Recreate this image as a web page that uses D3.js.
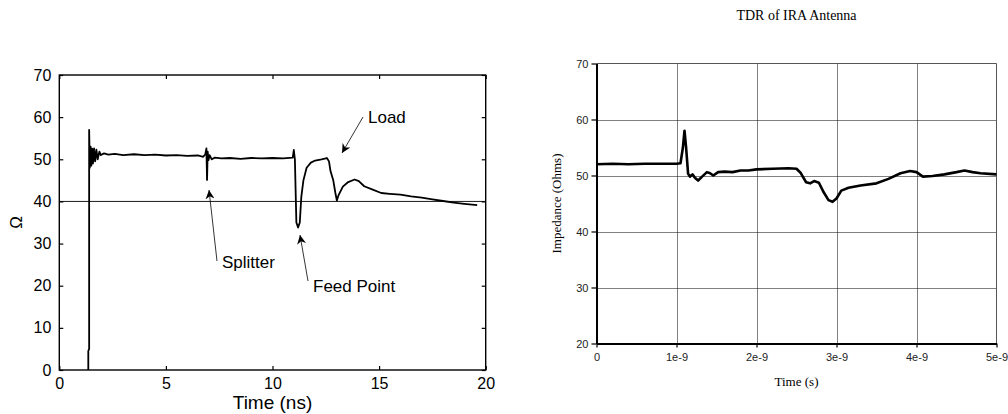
<!DOCTYPE html>
<html>
<head>
<meta charset="utf-8">
<script src="https://cdn.jsdelivr.net/npm/d3@7"></script>
<style>
  body { margin: 0; background: #fff; }
  svg { display: block; }
</style>
</head>
<body>
<script>
// left plot: TDR trace, time in ns, impedance in ohms
const leftTime = [1.36, 1.36, 1.40, 1.40, 1.43, 1.47, 1.50, 1.54, 1.58, 1.63, 1.68, 1.74, 1.80, 1.88, 1.95, 2.1, 2.3, 2.6, 3.0, 3.5, 4.0, 4.5, 5.0, 5.5, 6.0, 6.5, 6.75, 6.85, 6.90, 6.93, 6.96, 7.0, 7.05, 7.15, 7.3, 7.6, 8.0, 8.5, 9.0, 9.5, 10.0, 10.5, 10.95, 11.0, 11.05, 11.12, 11.2, 11.28, 11.35, 11.45, 11.6, 11.8, 12.0, 12.3, 12.55, 12.65, 12.72, 12.85, 12.95, 13.02, 13.1, 13.3, 13.55, 13.85, 14.05, 14.3, 14.7, 15.1, 15.5, 16.0, 16.5, 17.0, 17.5, 18.0, 18.5, 19.0, 19.6];
const leftOhm = [0, 4.5, 5, 57, 48, 53, 48.5, 52.5, 49, 52.6, 49.5, 52.3, 50, 51.8, 51.0, 51.4, 51.1, 51.3, 51.0, 51.2, 51.0, 51.1, 50.9, 51.0, 50.8, 50.9, 50.6, 51.2, 52.6, 45.1, 51.8, 49.8, 51.0, 50.0, 50.4, 50.2, 50.3, 50.1, 50.3, 50.2, 50.3, 50.2, 50.4, 52.2, 50.0, 35.0, 33.8, 35.0, 41.0, 45.0, 48.0, 49.2, 49.7, 50.0, 50.3, 49.5, 47.2, 45.0, 42.0, 40.2, 41.5, 43.5, 44.6, 45.2, 44.8, 43.6, 42.8, 42.0, 41.8, 41.6, 41.2, 40.9, 40.5, 40.1, 39.7, 39.4, 39.1];
const leftXTicks = [0, 5, 10, 15, 20];
const leftYTicks = [0, 10, 20, 30, 40, 50, 60, 70];
const leftRefLine = 40;
const notes = [
  {text: "Load", tx: 368, ty: 117, from: [363, 117], to: [342, 153]},
  {text: "Splitter", tx: 222, ty: 262, from: [217, 261], to: [209, 190]},
  {text: "Feed Point", tx: 313, ty: 286, from: [308, 281], to: [300, 235]}
];

// right plot: TDR of IRA Antenna, time in units of 1e-9 s
const rightTime = [0, 0.2, 0.4, 0.6, 0.8, 1.0, 1.05, 1.08, 1.10, 1.12, 1.145, 1.17, 1.2, 1.23, 1.27, 1.32, 1.38, 1.42, 1.46, 1.52, 1.6, 1.7, 1.8, 1.9, 2.0, 2.2, 2.4, 2.5, 2.55, 2.62, 2.67, 2.72, 2.78, 2.84, 2.9, 2.95, 3.0, 3.06, 3.15, 3.3, 3.5, 3.65, 3.8, 3.92, 4.0, 4.08, 4.2, 4.35, 4.5, 4.6, 4.7, 4.8, 5.0];
const rightOhm = [52.0, 52.1, 52.0, 52.1, 52.1, 52.1, 52.2, 55, 58, 55, 50.3, 49.8, 50.2, 49.6, 49.1, 49.8, 50.6, 50.4, 50.0, 50.6, 50.7, 50.6, 50.9, 50.9, 51.1, 51.2, 51.3, 51.2, 50.5, 48.8, 48.6, 49.0, 48.7, 47.0, 45.6, 45.3, 45.9, 47.3, 47.8, 48.2, 48.6, 49.4, 50.4, 50.8, 50.6, 49.8, 49.9, 50.2, 50.6, 50.9, 50.6, 50.4, 50.2];
const rightXTicks = [0, 1, 2, 3, 4, 5];
const rightXLabels = ["0", "1e-9", "2e-9", "3e-9", "4e-9", "5e-9"];
const rightYTicks = [20, 30, 40, 50, 60, 70];

const svg = d3.select("body").append("svg")
    .attr("width", 1008)
    .attr("height", 414);

// ---------- left chart ----------
const xL = d3.scaleLinear().domain([0, 20]).range([59.3, 485.7]);
const yL = d3.scaleLinear().domain([0, 70]).range([370, 75]);
const gL = svg.append("g").style("font-family", "Liberation Sans, Arial, sans-serif");

// reference line at 40 ohm
gL.append("line")
    .attr("x1", xL(0)).attr("x2", xL(20))
    .attr("y1", yL(leftRefLine)).attr("y2", yL(leftRefLine))
    .attr("stroke", "#000").attr("stroke-width", 0.9);

// trace
gL.append("path")
    .datum(leftTime.map((t, i) => [t, leftOhm[i]]))
    .attr("fill", "none")
    .attr("stroke", "#000")
    .attr("stroke-width", 1.8)
    .attr("stroke-linejoin", "round")
    .attr("d", d3.line().x(d => xL(d[0])).y(d => yL(d[1])));

// inward ticks on all four sides (matlab style)
gL.append("g").attr("transform", `translate(0,${yL(0)})`)
    .call(d3.axisBottom(xL).tickValues(leftXTicks).tickSizeInner(-4).tickSizeOuter(0).tickPadding(8))
    .call(g => g.select(".domain").remove());
gL.append("g").attr("transform", `translate(0,${yL(70)})`)
    .call(d3.axisTop(xL).tickValues(leftXTicks).tickSizeInner(-4).tickSizeOuter(0).tickFormat(""))
    .call(g => g.select(".domain").remove());
gL.append("g").attr("transform", `translate(${xL(0)},0)`)
    .call(d3.axisLeft(yL).tickValues(leftYTicks).tickSizeInner(-4).tickSizeOuter(0).tickPadding(8))
    .call(g => g.select(".domain").remove());
gL.append("g").attr("transform", `translate(${xL(20)},0)`)
    .call(d3.axisRight(yL).tickValues(leftYTicks).tickSizeInner(-4).tickSizeOuter(0).tickFormat(""))
    .call(g => g.select(".domain").remove());
gL.selectAll(".tick line").attr("stroke", "#000").attr("stroke-width", 1.2);
gL.selectAll(".tick text").attr("fill", "#000").style("font-size", "16px")
    .style("font-family", "Liberation Sans, Arial, sans-serif");

gL.append("rect")
    .attr("x", xL(0)).attr("y", yL(70))
    .attr("width", xL(20) - xL(0)).attr("height", yL(0) - yL(70))
    .attr("fill", "none").attr("stroke", "#000").attr("stroke-width", 1.4);

gL.append("text")
    .attr("x", (xL(0) + xL(20)) / 2).attr("y", 409)
    .attr("text-anchor", "middle")
    .style("font-size", "19px")
    .text("Time (ns)");

gL.append("text")
    .attr("transform", `translate(22,${(yL(0) + yL(70)) / 2}) rotate(-90)`)
    .attr("text-anchor", "middle")
    .style("font-size", "17px")
    .text("Ω");

// annotations with arrows
svg.append("defs").append("marker")
    .attr("id", "arrow")
    .attr("viewBox", "0 0 10 10")
    .attr("refX", 10).attr("refY", 5)
    .attr("markerWidth", 9).attr("markerHeight", 9)
    .attr("markerUnits", "userSpaceOnUse")
    .attr("orient", "auto")
    .append("path").attr("d", "M0,0 L10,5 L0,10 L3,5 Z").attr("fill", "#000");

notes.forEach(n => {
  gL.append("line")
      .attr("x1", n.from[0]).attr("y1", n.from[1])
      .attr("x2", n.to[0]).attr("y2", n.to[1])
      .attr("stroke", "#000").attr("stroke-width", 0.8)
      .attr("marker-end", "url(#arrow)");
  gL.append("text")
      .attr("x", n.tx).attr("y", n.ty)
      .attr("dy", "0.35em")
      .style("font-size", "17px")
      .text(n.text);
});

// ---------- right chart ----------
const xR = d3.scaleLinear().domain([0, 5]).range([596.5, 996.5]);
const yR = d3.scaleLinear().domain([20, 70]).range([343.5, 63.5]);
const gR = svg.append("g");

// dotted grid
gR.append("g").selectAll("line.v")
    .data(rightXTicks.slice(1, -1))
    .enter().append("line")
    .attr("x1", d => Math.round(xR(d)) + 0.5).attr("x2", d => Math.round(xR(d)) + 0.5)
    .attr("y1", yR(20)).attr("y2", yR(70))
    .attr("stroke", "#000").attr("stroke-width", 1).attr("stroke-dasharray", "1,1");
gR.append("g").selectAll("line.h")
    .data(rightYTicks.slice(1, -1))
    .enter().append("line")
    .attr("x1", xR(0)).attr("x2", xR(5))
    .attr("y1", d => Math.round(yR(d)) + 0.5).attr("y2", d => Math.round(yR(d)) + 0.5)
    .attr("stroke", "#000").attr("stroke-width", 1).attr("stroke-dasharray", "1,1");

// top / right frame
gR.append("path")
    .attr("d", `M${xR(0)},${yR(70)}H${xR(5)}V${yR(20)}`)
    .attr("fill", "none").attr("stroke", "#555").attr("stroke-width", 1);

// trace
gR.append("path")
    .datum(rightTime.map((t, i) => [t, rightOhm[i]]))
    .attr("fill", "none")
    .attr("stroke", "#000")
    .attr("stroke-width", 2.6)
    .attr("stroke-linejoin", "round")
    .attr("d", d3.line().x(d => xR(d[0])).y(d => yR(d[1])));

const axB = gR.append("g").attr("transform", `translate(0,${yR(20)})`)
    .call(d3.axisBottom(xR).tickValues(rightXTicks).tickSizeInner(4).tickSizeOuter(0).tickPadding(6)
      .tickFormat((d, i) => rightXLabels[i]));
const axL = gR.append("g").attr("transform", `translate(${xR(0)},0)`)
    .call(d3.axisLeft(yR).tickValues(rightYTicks).tickSizeInner(5).tickSizeOuter(0).tickPadding(3));
[axB, axL].forEach(a => {
  a.select(".domain").attr("stroke", "#000").attr("stroke-width", 2);
  a.selectAll(".tick line").attr("stroke", "#000").attr("stroke-width", 1.2);
  a.selectAll(".tick text").attr("fill", "#222").style("font-size", "11px")
      .style("font-family", "Liberation Sans, Arial, sans-serif");
});

gR.append("text")
    .attr("x", 796.5).attr("y", 20)
    .attr("text-anchor", "middle")
    .style("font-family", "Liberation Serif, Times New Roman, serif")
    .style("font-size", "14px")
    .text("TDR of IRA Antenna");

gR.append("text")
    .attr("x", (xR(0) + xR(5)) / 2).attr("y", 386)
    .attr("text-anchor", "middle")
    .style("font-family", "Liberation Serif, Times New Roman, serif")
    .style("font-size", "13px")
    .text("Time (s)");

gR.append("text")
    .attr("transform", `translate(561,${(yR(20) + yR(70)) / 2}) rotate(-90)`)
    .attr("text-anchor", "middle")
    .style("font-family", "Liberation Serif, Times New Roman, serif")
    .style("font-size", "13px")
    .text("Impedance (Ohms)");
</script>
</body>
</html>
